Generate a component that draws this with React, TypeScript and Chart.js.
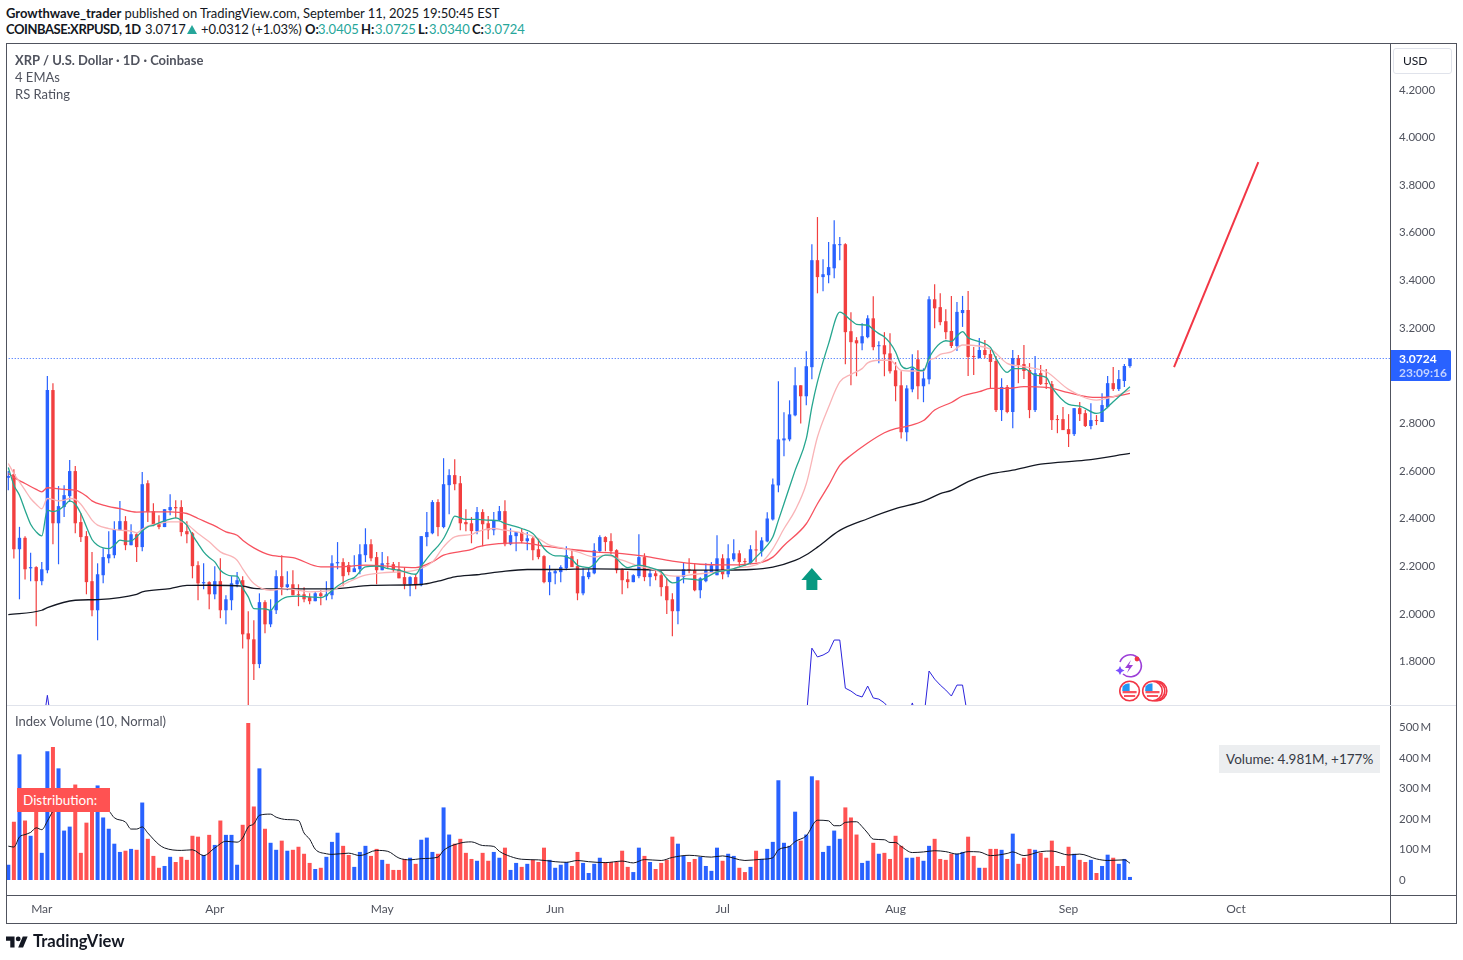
import { useEffect, useRef } from "react";
import Chart from "chart.js/auto";

// daily candles, Feb 23 2025 = day 0
const opens = [2.572,2.587,2.272,2.320,2.192,2.197,2.138,2.184,2.940,2.381,2.449,2.495,2.600,2.386,2.327,2.138,2.016,2.163,2.234,2.247,2.352,2.390,2.289,2.335,2.281,2.549,2.432,2.377,2.365,2.436,2.449,2.449,2.348,2.339,2.205,2.129,2.134,2.083,2.138,2.016,2.058,2.125,2.142,1.919,1.894,1.790,2.050,1.957,2.016,2.159,2.113,2.125,2.083,2.083,2.071,2.054,2.087,2.075,2.079,2.213,2.218,2.205,2.176,2.188,2.247,2.293,2.239,2.184,2.213,2.209,2.188,2.155,2.125,2.155,2.121,2.323,2.339,2.470,2.365,2.541,2.583,2.549,2.386,2.381,2.348,2.428,2.381,2.352,2.394,2.432,2.293,2.327,2.344,2.306,2.318,2.272,2.243,2.134,2.171,2.176,2.192,2.243,2.201,2.087,2.155,2.171,2.264,2.323,2.306,2.268,2.188,2.146,2.134,2.159,2.239,2.155,2.171,2.163,2.117,2.062,2.012,2.155,2.188,2.184,2.100,2.138,2.176,2.163,2.234,2.167,2.230,2.255,2.222,2.213,2.271,2.263,2.305,2.397,2.540,2.729,2.733,2.834,2.960,2.914,3.036,3.485,3.414,3.422,3.451,3.548,3.552,3.187,3.149,3.136,3.162,3.241,3.124,3.128,3.094,3.023,2.960,2.763,2.943,3.069,2.956,2.985,3.321,3.288,3.229,3.188,3.125,3.263,3.276,3.083,3.074,3.108,3.091,3.062,2.856,2.953,2.848,3.074,3.049,3.024,2.856,3.011,2.969,2.965,2.818,2.818,2.776,2.755,2.864,2.843,2.789,2.814,2.806,2.869,2.969,2.944,2.978,3.0405];
const highs = [2.600,2.608,2.366,2.327,2.257,2.201,2.218,2.999,2.969,2.537,2.541,2.646,2.621,2.423,2.348,2.260,2.213,2.276,2.348,2.390,2.474,2.411,2.377,2.339,2.596,2.562,2.465,2.415,2.440,2.503,2.478,2.478,2.390,2.344,2.222,2.213,2.138,2.201,2.234,2.079,2.159,2.176,2.159,2.012,1.974,2.087,2.058,2.062,2.184,2.247,2.180,2.184,2.125,2.113,2.087,2.096,2.100,2.138,2.247,2.302,2.234,2.218,2.247,2.293,2.360,2.314,2.260,2.260,2.243,2.218,2.218,2.197,2.159,2.167,2.327,2.428,2.478,2.482,2.654,2.608,2.650,2.579,2.440,2.407,2.449,2.440,2.411,2.428,2.453,2.478,2.360,2.344,2.360,2.344,2.323,2.314,2.247,2.205,2.188,2.205,2.285,2.268,2.230,2.192,2.192,2.297,2.331,2.327,2.339,2.272,2.192,2.180,2.167,2.335,2.255,2.192,2.188,2.180,2.150,2.087,2.159,2.218,2.234,2.213,2.155,2.213,2.218,2.331,2.251,2.293,2.314,2.268,2.234,2.289,2.351,2.322,2.427,2.569,2.977,2.847,2.897,3.036,2.960,3.103,3.552,3.666,3.489,3.561,3.653,3.582,3.556,3.267,3.162,3.220,3.254,3.334,3.145,3.183,3.178,3.057,3.019,2.960,3.090,3.107,3.031,3.334,3.384,3.346,3.279,3.335,3.310,3.335,3.356,3.121,3.158,3.150,3.108,3.083,2.990,2.961,3.108,3.087,3.129,3.053,3.083,3.045,3.028,2.978,2.835,2.869,2.839,2.864,2.890,2.856,2.885,2.835,2.927,2.999,3.037,3.024,3.049,3.0725];
const lows = [2.520,2.233,2.062,2.145,2.138,1.949,2.121,2.171,2.293,2.209,2.407,2.470,2.339,2.302,2.083,1.991,1.890,2.129,2.213,2.234,2.352,2.268,2.289,2.218,2.264,2.386,2.369,2.356,2.365,2.415,2.402,2.327,2.297,2.150,2.058,2.104,2.020,2.062,1.982,1.957,2.016,2.113,1.856,1.610,1.723,1.773,1.919,1.945,2.000,2.079,2.100,2.079,2.033,2.050,2.041,2.054,2.037,2.058,2.062,2.188,2.117,2.163,2.176,2.167,2.218,2.222,2.125,2.184,2.192,2.176,2.150,2.104,2.075,2.104,2.117,2.285,2.335,2.327,2.360,2.419,2.520,2.352,2.348,2.297,2.335,2.285,2.314,2.331,2.390,2.285,2.289,2.264,2.297,2.268,2.226,2.230,2.129,2.079,2.125,2.134,2.184,2.197,2.058,2.079,2.146,2.167,2.260,2.264,2.251,2.171,2.083,2.108,2.134,2.150,2.138,2.117,2.142,2.075,2.000,1.907,1.957,2.129,2.171,2.096,2.066,2.134,2.176,2.163,2.146,2.155,2.222,2.201,2.201,2.209,2.217,2.242,2.301,2.393,2.511,2.662,2.725,2.830,2.800,2.876,2.985,3.346,3.355,3.388,3.409,3.485,3.048,2.960,2.998,3.107,3.157,3.107,3.052,2.998,3.010,2.893,2.737,2.725,2.931,2.901,2.889,2.964,3.199,3.212,3.153,3.116,3.104,3.205,2.999,3.003,3.074,3.074,2.948,2.848,2.810,2.843,2.780,2.969,2.986,2.822,2.848,2.961,2.944,2.772,2.759,2.772,2.701,2.747,2.810,2.785,2.776,2.793,2.806,2.864,2.936,2.936,2.953,3.034];
const closes = [2.579,2.272,2.320,2.188,2.197,2.138,2.188,2.940,2.381,2.453,2.499,2.600,2.381,2.323,2.134,2.016,2.167,2.239,2.251,2.356,2.390,2.289,2.335,2.281,2.545,2.428,2.373,2.365,2.440,2.449,2.444,2.344,2.335,2.201,2.129,2.134,2.083,2.138,2.016,2.062,2.129,2.142,1.915,1.894,1.790,2.050,1.957,2.016,2.159,2.113,2.125,2.079,2.079,2.062,2.054,2.087,2.075,2.083,2.213,2.218,2.159,2.176,2.192,2.251,2.293,2.234,2.184,2.213,2.209,2.184,2.150,2.125,2.155,2.121,2.327,2.344,2.470,2.365,2.545,2.583,2.545,2.381,2.377,2.348,2.428,2.377,2.352,2.394,2.432,2.293,2.331,2.344,2.306,2.318,2.268,2.239,2.134,2.176,2.180,2.197,2.247,2.197,2.087,2.159,2.176,2.268,2.323,2.302,2.264,2.184,2.142,2.134,2.163,2.239,2.155,2.171,2.159,2.113,2.058,2.012,2.159,2.188,2.184,2.100,2.150,2.184,2.205,2.234,2.167,2.234,2.255,2.218,2.218,2.272,2.267,2.309,2.401,2.544,2.733,2.737,2.838,2.960,2.914,3.040,3.485,3.414,3.426,3.456,3.552,3.552,3.183,3.141,3.136,3.166,3.241,3.120,3.128,3.090,3.019,2.956,2.763,2.947,3.031,2.956,2.989,3.321,3.283,3.225,3.183,3.125,3.268,3.276,3.079,3.079,3.108,3.087,3.058,2.856,2.953,2.848,3.074,3.045,3.020,2.856,3.011,2.965,2.965,2.814,2.814,2.772,2.755,2.864,2.839,2.789,2.814,2.810,2.877,2.969,2.944,2.986,3.041,3.0724];
const volumes = [50,191,412,195,145,258,89,422,436,366,162,175,313,89,188,258,310,205,168,119,92,96,102,99,254,135,79,40,46,76,59,76,66,145,142,82,148,115,195,148,148,50,181,515,241,366,168,122,99,129,96,99,109,86,56,36,40,76,125,155,112,82,43,92,112,79,102,66,53,33,33,69,73,53,132,139,92,86,238,149,119,135,89,69,63,89,63,92,73,106,33,56,43,53,66,59,106,66,40,50,59,46,92,56,23,53,73,59,59,59,96,43,26,106,79,59,36,56,66,142,119,79,59,69,76,46,30,106,63,86,79,40,26,43,96,69,102,125,327,122,112,224,129,149,340,327,92,112,162,135,238,205,149,56,63,122,86,89,69,145,112,73,73,76,63,112,135,69,66,86,86,92,142,79,40,40,102,102,99,69,152,53,73,102,99,89,73,129,46,46,109,86,66,59,66,23,46,83,73,53,69,10];

const tealDays = [0,1,2,3,4,5,6,7,8,9,10,11,12,13,14,15,16,17,18,19,20,21,22,23,24,25,26,27,28,29,30,31,32,33,34,35,36,37,38,39,40,41,42,43,44,46,47,48,50,52,54,56,57,59,61,62,64,66,68,70,73,74,76,77,78,79,80,82,84,86,88,89,90,92,94,95,96,97,98,99,100,101,102,103,104,105,106,107,108,109,110,111,112,113,115,117,118,119,120,121,123,124,125,127,129,131,133,134,136,137,138,139,141,143,144,145,147,149,151,152,154,155,156,157,158,159,160,161,162,163,164,165,166,167,168,169,170,171,172,174,176,177,179,180,182,184,186,187,190,192,195,196,198,200,201];
const tealValues = [2.615,2.541,2.499,2.436,2.377,2.345,2.328,2.436,2.430,2.436,2.453,2.475,2.461,2.422,2.366,2.313,2.289,2.278,2.275,2.289,2.310,2.306,2.307,2.324,2.349,2.366,2.372,2.383,2.391,2.398,2.404,2.394,2.373,2.331,2.296,2.261,2.237,2.219,2.184,2.167,2.160,2.159,2.110,2.072,2.023,2.022,2.016,2.044,2.072,2.075,2.072,2.069,2.079,2.118,2.145,2.153,2.198,2.201,2.191,2.184,2.167,2.201,2.261,2.285,2.317,2.363,2.411,2.397,2.397,2.394,2.391,2.380,2.373,2.359,2.338,2.310,2.275,2.254,2.244,2.244,2.240,2.229,2.205,2.198,2.195,2.209,2.236,2.247,2.247,2.233,2.209,2.195,2.201,2.205,2.195,2.177,2.149,2.131,2.135,2.149,2.145,2.142,2.153,2.177,2.184,2.198,2.215,2.239,2.288,2.323,2.393,2.463,2.603,2.736,2.869,2.974,3.135,3.267,3.233,3.216,3.212,3.194,3.177,3.163,3.138,3.100,3.044,3.030,3.037,3.023,3.022,3.075,3.112,3.136,3.147,3.143,3.167,3.185,3.160,3.143,3.119,3.073,3.014,3.030,3.030,3.003,2.993,2.951,2.880,2.873,2.842,2.849,2.891,2.933,2.954];

const pinkDays = [0,1,2,3,4,5,6,7,8,9,10,11,12,13,14,15,16,18,20,22,23,24,25,27,29,31,32,34,36,38,41,42,44,47,50,54,58,61,64,67,70,73,76,78,80,83,84,87,89,92,95,97,99,102,105,107,110,113,116,118,120,123,127,131,133,135,137,139,141,143,145,147,149,151,153,154,156,158,160,162,164,165,166,167,169,171,176,179,182,186,190,195,198,201];
const pinkValues = [2.632,2.590,2.555,2.520,2.485,2.461,2.442,2.485,2.481,2.475,2.478,2.485,2.481,2.461,2.429,2.394,2.373,2.359,2.352,2.348,2.341,2.356,2.369,2.380,2.387,2.387,2.377,2.338,2.303,2.261,2.226,2.190,2.128,2.100,2.107,2.093,2.100,2.135,2.163,2.173,2.177,2.184,2.219,2.282,2.324,2.334,2.345,2.359,2.352,2.341,2.317,2.289,2.279,2.261,2.240,2.247,2.226,2.201,2.184,2.163,2.159,2.167,2.177,2.195,2.200,2.218,2.274,2.358,2.435,2.547,2.743,2.869,2.974,3.006,3.030,3.054,3.065,3.065,3.023,3.020,3.020,3.065,3.073,3.090,3.100,3.129,3.112,3.052,3.038,3.017,2.943,2.898,2.912,2.940];

const redDays = [0,1,3,5,6,7,10,12,14,15,17,20,23,26,29,32,34,37,39,41,42,44,47,51,56,59,64,67,73,76,78,83,84,88,92,96,101,105,110,114,119,124,129,133,135,137,139,143,145,147,149,151,154,157,159,161,164,166,169,171,174,176,179,182,186,190,195,198,201];
const redValues = [2.590,2.573,2.548,2.523,2.513,2.530,2.523,2.520,2.495,2.475,2.457,2.442,2.428,2.429,2.429,2.422,2.401,2.370,2.345,2.331,2.310,2.278,2.247,2.237,2.198,2.198,2.205,2.202,2.195,2.219,2.247,2.271,2.281,2.296,2.299,2.285,2.271,2.261,2.254,2.243,2.222,2.209,2.206,2.211,2.217,2.239,2.288,2.379,2.463,2.540,2.624,2.666,2.718,2.761,2.778,2.788,2.812,2.856,2.888,2.915,2.933,2.947,2.947,2.954,2.951,2.929,2.909,2.912,2.926];

const blackDays = [0,6,7,12,16,23,24,29,32,36,42,44,47,58,65,74,77,80,84,88,93,98,105,113,119,124,133,137,141,143,145,149,154,159,164,167,169,172,176,180,185,193,201];
const blackValues = [1.998,2.016,2.027,2.058,2.061,2.083,2.093,2.107,2.120,2.121,2.117,2.108,2.106,2.106,2.120,2.124,2.138,2.156,2.165,2.177,2.187,2.187,2.190,2.187,2.184,2.184,2.187,2.197,2.225,2.249,2.281,2.351,2.400,2.442,2.474,2.505,2.519,2.556,2.588,2.604,2.629,2.646,2.674];

// RS Rating line, sits mostly below the pane
const rsDays = [6,7,8,143,144,145,146,147,148,149,150,151,152,153,154,155,156,157,158,161,162,163,164,165,166,167,168,169,170,171,172];
const rsValues = [1.50,1.659,1.50,1.56,1.857,1.820,1.828,1.841,1.891,1.891,1.689,1.677,1.660,1.652,1.698,1.648,1.643,1.627,1.60,1.55,1.627,1.55,1.55,1.761,1.727,1.702,1.681,1.656,1.702,1.702,1.56];

const volMaDays = [0,1,2,3,4,5,6,7,8,10,13,16,18,19,21,22,23,24,25,27,28,31,33,35,37,39,41,42,43,44,45,47,48,50,52,53,54,55,57,58,61,63,66,68,70,72,74,77,78,81,83,85,87,88,90,92,95,98,100,102,104,107,110,112,114,117,119,122,126,128,132,135,137,138,140,141,143,145,147,148,149,150,152,153,154,155,157,158,159,160,162,164,166,168,170,172,174,176,179,180,182,185,187,190,192,195,197,200,201];
const volMaValues = [111,108,141,149,156,171,165,193,226,270,281,264,228,204,190,167,167,174,154,116,105,97,99,80,105,127,124,138,174,184,212,216,206,198,195,154,134,101,86,84,88,80,97,94,72,66,70,75,97,121,125,113,110,94,77,68,66,60,58,64,60,57,62,56,67,64,74,81,75,79,64,68,73,99,110,126,145,196,194,178,178,189,191,175,154,134,132,123,123,110,90,92,96,93,85,93,92,80,87,92,80,93,95,82,85,69,64,66,55];

const projectionDays = [208.9, 224];
const projectionPrices = [3.036, 3.897];
const lastPrice = 3.0724;
const arrowDay = 144;
const arrowPrice = 2.193;

const priceTicks = [1.8,2.0,2.2,2.4,2.6,2.8,3.0,3.2,3.4,3.6,3.8,4.0,4.2];
const volumeTicks = [0,100,200,300,400,500];
const monthDays = [6,37,67,98,128,159,190,220];
const monthNames = ["Mar","Apr","May","Jun","Jul","Aug","Sep","Oct"];

const UP = "#2962ff";
const DOWN = "#f23f3f";
const VOL_DOWN = "#ff5252";
const TEXT = "#50535e";
const FONT = "Lato, 'Open Sans', sans-serif";

const days = opens.map((_, i) => i);
const candleColors = days.map(i => (closes[i] >= opens[i] ? UP : DOWN));
const pts = (xs: number[], ys: number[]) => xs.map((x, i) => ({ x, y: ys[i] }));

const xRange = { type: "linear" as const, min: -0.233, max: 247.6, offset: false };

// tick labels must not push the plot area in, the panes run edge to edge
const noScalePadding = (s: any) => {
  s.paddingTop = 0;
  s.paddingBottom = 0;
  s.paddingLeft = 0;
  s.paddingRight = 0;
};

const arrowPlugin = {
  id: "arrow",
  afterDatasetsDraw(chart: any) {
    const { ctx, scales } = chart;
    const x = scales.x.getPixelForValue(arrowDay);
    const y = scales.y.getPixelForValue(arrowPrice);
    ctx.save();
    ctx.fillStyle = "#089981";
    ctx.beginPath();
    ctx.moveTo(x, y);
    ctx.lineTo(x + 10.5, y + 12);
    ctx.lineTo(x + 5.5, y + 12);
    ctx.lineTo(x + 5.5, y + 22);
    ctx.lineTo(x - 5.5, y + 22);
    ctx.lineTo(x - 5.5, y + 12);
    ctx.lineTo(x - 10.5, y + 12);
    ctx.closePath();
    ctx.fill();
    ctx.restore();
  },
};

const emaLine = (xs: number[], ys: number[], color: string, width: number, order: number) => ({
  type: "line" as const,
  data: pts(xs, ys),
  borderColor: color,
  borderWidth: width,
  pointRadius: 0,
  cubicInterpolationMode: "monotone" as const,
  order,
});

const PriceChart = () => {
  const ref = useRef<HTMLCanvasElement | null>(null);

  useEffect(() => {
    if (!ref.current) return;
    const chart = new Chart(ref.current, {
      type: "bar",
      data: {
        datasets: [
          {
            label: "wicks",
            data: days.map(i => ({ x: i, y: [lows[i], highs[i]] })),
            backgroundColor: candleColors,
            barThickness: 1.2,
            inflateAmount: 0,
            grouped: false,
            order: 9,
          },
          {
            label: "bodies",
            data: days.map(i => ({ x: i, y: [Math.min(opens[i], closes[i]), Math.max(opens[i], closes[i])] })),
            backgroundColor: candleColors,
            barThickness: 3.4,
            inflateAmount: 0,
            minBarLength: 1,
            grouped: false,
            order: 8,
          },
          emaLine(blackDays, blackValues, "#131722", 1.3, 6),
          emaLine(redDays, redValues, "#f7525f", 1.3, 5),
          emaLine(pinkDays, pinkValues, "#f9b4b7", 1.3, 4),
          emaLine(tealDays, tealValues, "#26a68f", 1.3, 3),
          { ...emaLine(rsDays, rsValues, "#2a22dc", 1, 2), cubicInterpolationMode: "default" as const },
          {
            type: "line" as const,
            data: pts([-1, 248], [lastPrice, lastPrice]),
            borderColor: UP,
            borderWidth: 1,
            borderDash: [1, 2],
            pointRadius: 0,
            order: 7,
          },
          { ...emaLine(projectionDays, projectionPrices, "#f23645", 2, 1), cubicInterpolationMode: "default" as const },
        ] as any,
      },
      options: {
        responsive: false,
        animation: false,
        events: [],
        layout: { padding: 0, autoPadding: false },
        plugins: { legend: { display: false }, tooltip: { enabled: false } },
        scales: {
          x: { ...xRange, display: false, grid: { display: false } },
          y: {
            type: "linear",
            position: "right",
            min: 1.6184,
            max: 4.3922,
            grid: { display: false },
            border: { display: false },
            afterFit: (s: any) => { s.width = 66; noScalePadding(s); },
            afterBuildTicks: (s: any) => { s.ticks = priceTicks.map(value => ({ value })); },
            ticks: {
              color: TEXT,
              padding: 1,
              font: { family: FONT, size: 11.5 },
              callback: (v: any) => Number(v).toFixed(4),
            },
          },
        },
      } as any,
      plugins: [arrowPlugin],
    });
    return () => chart.destroy();
  }, []);

  return <canvas ref={ref} width={1449} height={661} style={{ position: "absolute", left: 7, top: 44 }} />;
};

const VolumeChart = () => {
  const ref = useRef<HTMLCanvasElement | null>(null);

  useEffect(() => {
    if (!ref.current) return;
    const chart = new Chart(ref.current, {
      type: "bar",
      data: {
        datasets: [
          {
            data: days.map(i => ({ x: i, y: volumes[i] })),
            backgroundColor: days.map(i => (closes[i] >= opens[i] ? UP : VOL_DOWN)),
            barThickness: 4,
            inflateAmount: 0,
            grouped: false,
            order: 2,
          },
          {
            type: "line" as const,
            data: pts(volMaDays, volMaValues),
            borderColor: "#131722",
            borderWidth: 1,
            pointRadius: 0,
            cubicInterpolationMode: "monotone" as const,
            order: 1,
          },
        ] as any,
      },
      options: {
        responsive: false,
        animation: false,
        events: [],
        layout: { padding: 0, autoPadding: false },
        plugins: { legend: { display: false }, tooltip: { enabled: false } },
        scales: {
          x: {
            ...xRange,
            grid: { display: false },
            border: { display: false },
            afterFit: (s: any) => { s.height = 28; noScalePadding(s); },
            afterBuildTicks: (s: any) => { s.ticks = monthDays.map(value => ({ value })); },
            ticks: {
              color: TEXT,
              maxRotation: 0,
              autoSkip: false,
              padding: -1,
              font: { family: FONT, size: 12 },
              callback: (v: any) => monthNames[monthDays.indexOf(Number(v))],
            },
          },
          y: {
            type: "linear",
            position: "right",
            min: -49.2,
            max: 570.5,
            grid: { display: false },
            border: { display: false },
            afterFit: (s: any) => { s.width = 66; noScalePadding(s); },
            afterBuildTicks: (s: any) => { s.ticks = volumeTicks.map(value => ({ value })); },
            ticks: {
              color: TEXT,
              padding: 1,
              font: { family: FONT, size: 11.5 },
              callback: (v: any) => (Number(v) === 0 ? "0" : `${v}\u2009M`),
            },
          },
        },
      } as any,
    });
    return () => chart.destroy();
  }, []);

  return <canvas ref={ref} width={1449} height={217} style={{ position: "absolute", left: 7, top: 706 }} />;
};

const line = (left: number, top: number, width: number, height: number, background: string) => (
  <div style={{ position: "absolute", left, top, width, height, background }} />
);

const label = (left: number, top: number, text: string, extra: React.CSSProperties = {}) => (
  <div style={{ position: "absolute", left, top, whiteSpace: "nowrap", lineHeight: "16px", ...extra }}>{text}</div>
);

const Flag = ({ x }: { x: number }) => (
  <g transform={`translate(${x} 691)`}>
    <circle r="9.8" fill="#fff" stroke="#f23645" strokeWidth="1.6" />
    <circle r="7.4" fill="#fff" />
    <path d="M-7 1.2h14M-5.6 5h11.2" stroke="#f7525f" strokeWidth="2.2" />
    <path d="M-7 -4.5a7.4 7.4 0 0 1 7 -3v7.5h-7.4z" fill="#2196f3" />
  </g>
);

const App = () => {
  const teal = { color: "#26a69a" };
  const b = { fontWeight: 700 };
  return (
    <div style={{ position: "absolute", left: 0, top: 0, width: 1463, height: 960, background: "#fff", overflow: "hidden", fontFamily: FONT, color: "#131722", fontSize: 13 }}>
      <div style={{ position: "absolute", left: 6, top: 5, whiteSpace: "nowrap", lineHeight: "16px", letterSpacing: -0.03 }}>
        <b>Growthwave_trader</b> published on TradingView.com, September 11, 2025 19:50:45 EST
      </div>
      {label(6, 21, "COINBASE:XRPUSD, 1D", { ...b, letterSpacing: -0.45 })}
      {label(145, 21, "3.0717")}
      <div style={{ position: "absolute", left: 187, top: 25, width: 0, height: 0, borderLeft: "5px solid transparent", borderRight: "5px solid transparent", borderBottom: "9px solid #26a69a" }} />
      {label(201, 21, "+0.0312 (+1.03%)", { letterSpacing: -0.1 })}
      {label(305, 21, "O:", b)}
      {label(318, 21, "3.0405", teal)}
      {label(361, 21, "H:", b)}
      {label(375, 21, "3.0725", teal)}
      {label(418, 21, "L:", b)}
      {label(429, 21, "3.0340", teal)}
      {label(472, 21, "C:", b)}
      {label(484, 21, "3.0724", teal)}

      {/* frame */}
      {line(6, 43, 1451, 1, TEXT)}
      {line(6, 923, 1451, 1, TEXT)}
      {line(6, 43, 1, 881, TEXT)}
      {line(1456, 43, 1, 881, TEXT)}
      {line(1390, 43, 1, 881, TEXT)}
      {line(7, 705, 1449, 1, "#e0e3eb")}
      {line(7, 895, 1449, 1, TEXT)}

      <PriceChart />
      <VolumeChart />

      {label(15, 52, "XRP / U.S. Dollar · 1D · Coinbase", { color: TEXT, fontWeight: 700 })}
      {label(15, 69, "4 EMAs", { color: TEXT })}
      {label(15, 86, "RS Rating", { color: TEXT })}
      {label(15, 713, "Index Volume (10, Normal)", { color: TEXT })}

      <div style={{ position: "absolute", left: 1393, top: 48, width: 59, height: 26, border: "1px solid #e0e3eb", borderRadius: 3, boxSizing: "border-box" }} />
      {label(1403, 53, "USD", { fontSize: 12, color: "#131722" })}

      <div style={{ position: "absolute", left: 1391, top: 350, width: 60, height: 31, background: UP, borderRadius: "0 2px 2px 0" }} />
      {label(1399, 351, "3.0724", { color: "#fff", fontWeight: 700, fontSize: 12 })}
      {label(1399, 365, "23:09:16", { color: "#c3d2ff", fontWeight: 700, fontSize: 12 })}

      <div style={{ position: "absolute", left: 17, top: 788, width: 93, height: 24, background: VOL_DOWN }} />
      {label(23, 792, "Distribution:", { color: "#fff", fontSize: 13.5 })}

      <div style={{ position: "absolute", left: 1219, top: 745, width: 161, height: 28, background: "#eceef0" }} />
      {label(1226, 751, "Volume: 4.981M, +177%", { fontSize: 13.5, color: "#363a45" })}

      <svg width="1463" height="960" style={{ position: "absolute", left: 0, top: 0, pointerEvents: "none" }}>
        <g fill="none" stroke="#9c3fd8" strokeWidth="1.6">
          <path d="M1120 662a11 11 0 1 1 3 12" />
        </g>
        <path d="M1131 660l-6 8h4l-2 5 6-8h-4z" fill="#9c3fd8" />
        <path d="M1120 666l1.5 3 3 1.5-3 1.5-1.5 3-1.5-3-3-1.5 3-1.5z" fill="#7b4fff" />
        <circle cx="1137" cy="659" r="2.4" fill="#f23645" />
        <Flag x={1157} />
        <Flag x={1155} />
        <Flag x={1152.5} />
        <Flag x={1129.6} />
        <g transform="translate(6 934) scale(0.61)" fill="#131722">
          <path d="M14 22H7V11H0V4h14v18zM28 22h-8l7.5-18h8L28 22z" />
          <circle cx="20" cy="8" r="4" />
        </g>
      </svg>
      {label(33, 933, "TradingView", { fontWeight: 700, fontSize: 16.6, color: "#131722" })}
    </div>
  );
};

export default App;
